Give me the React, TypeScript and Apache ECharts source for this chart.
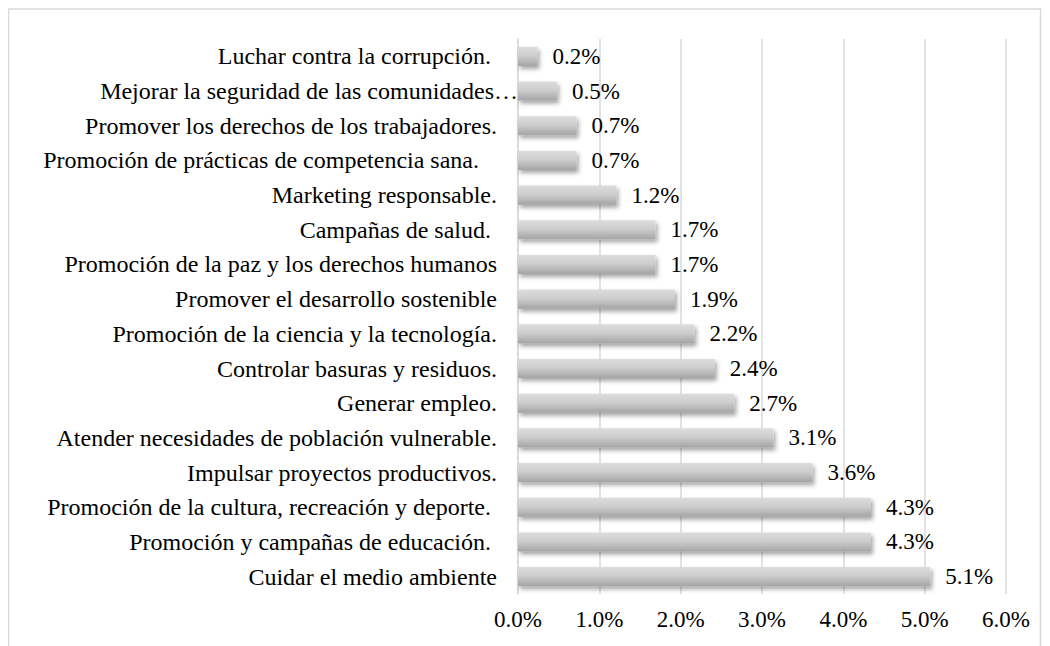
import React, { useEffect, useRef } from "react";
import * as echarts from "echarts";

const NB = "\u00a0";

const categories = [
  "Luchar contra la corrupción." + NB,
  "Mejorar la seguridad de las comunidades…",
  "Promover los derechos de los trabajadores.",
  "Promoción de prácticas de competencia sana." + NB + NB + NB,
  "Marketing responsable.",
  "Campañas de salud." + NB,
  "Promoción de la paz y los derechos humanos",
  "Promover el desarrollo sostenible",
  "Promoción de la ciencia y la tecnología.",
  "Controlar basuras y residuos.",
  "Generar empleo.",
  "Atender necesidades de población vulnerable.",
  "Impulsar proyectos productivos.",
  "Promoción de la cultura, recreación y deporte." + NB,
  "Promoción y campañas de educación." + NB,
  "Cuidar el medio ambiente",
];

const values = [
  0.24, 0.48, 0.72, 0.72, 1.21, 1.69, 1.69, 1.93, 2.17, 2.42, 2.66, 3.14, 3.62, 4.34, 4.34, 5.07,
];

const xTicks = { min: 0, max: 6, interval: 1 };

const FONT = "Liberation Serif";

export default function App() {
  const ref = useRef<HTMLDivElement>(null);
  useEffect(() => {
    if (!ref.current) return;
    const chart = echarts.init(ref.current, null, { renderer: "svg" });
    chart.setOption({
      animation: false,
      backgroundColor: "#ffffff",
      textStyle: { fontFamily: FONT },
      grid: { left: 510, right: 36, top: 31, bottom: 52, containLabel: false },
      graphic: [
        {
          type: "rect",
          shape: { x: 0.5, y: 1, width: 1032, height: 720 },
          style: { fill: "none", stroke: "#d9d9d9", lineWidth: 1.5 },
          silent: true,
          z: -10,
        },
      ],
      xAxis: {
        type: "value",
        min: xTicks.min,
        max: xTicks.max,
        interval: xTicks.interval,
        axisLine: { show: false },
        axisTick: { show: false },
        splitLine: { show: true, lineStyle: { color: "#d9d9d9", width: 1.5 } },
        axisLabel: {
          margin: 14,
          fontSize: 23,
          color: "#000",
          fontFamily: FONT,
          formatter: (v: number) => v.toFixed(1) + "%",
        },
      },
      yAxis: {
        type: "category",
        inverse: true,
        data: categories,
        axisLine: { show: true, lineStyle: { color: "#d9d9d9", width: 1.5 } },
        axisTick: { show: false },
        axisLabel: {
          margin: 21,
          fontSize: 24,
          color: "#000",
          fontFamily: FONT,
          formatter: (v: string, i: number) => (i === 1 ? `{e|${v}}` : v),
          rich: {
            e: { fontSize: 24, fontFamily: FONT, color: "#000", padding: [0, -21, 0, 0] },
          },
        },
      },
      series: [
        {
          type: "bar",
          data: values,
          barCategoryGap: "45%",
          itemStyle: {
            color: new echarts.graphic.LinearGradient(0, 0, 0, 1, [
              { offset: 0, color: "#dcdcdc" },
              { offset: 0.45, color: "#cecece" },
              { offset: 1, color: "#a4a4a4" },
            ]),
            shadowColor: "rgba(0,0,0,0.35)",
            shadowBlur: 4,
            shadowOffsetX: 2,
            shadowOffsetY: 3,
          },
          label: {
            show: true,
            position: "right",
            distance: 15,
            fontSize: 23,
            color: "#000",
            fontFamily: FONT,
            formatter: (p: any) => (Math.round(p.value * 10) / 10).toFixed(1) + "%",
          },
        },
      ],
    });
    return () => chart.dispose();
  }, []);
  return <div ref={ref} style={{ width: 1034, height: 638 }} />;
}
